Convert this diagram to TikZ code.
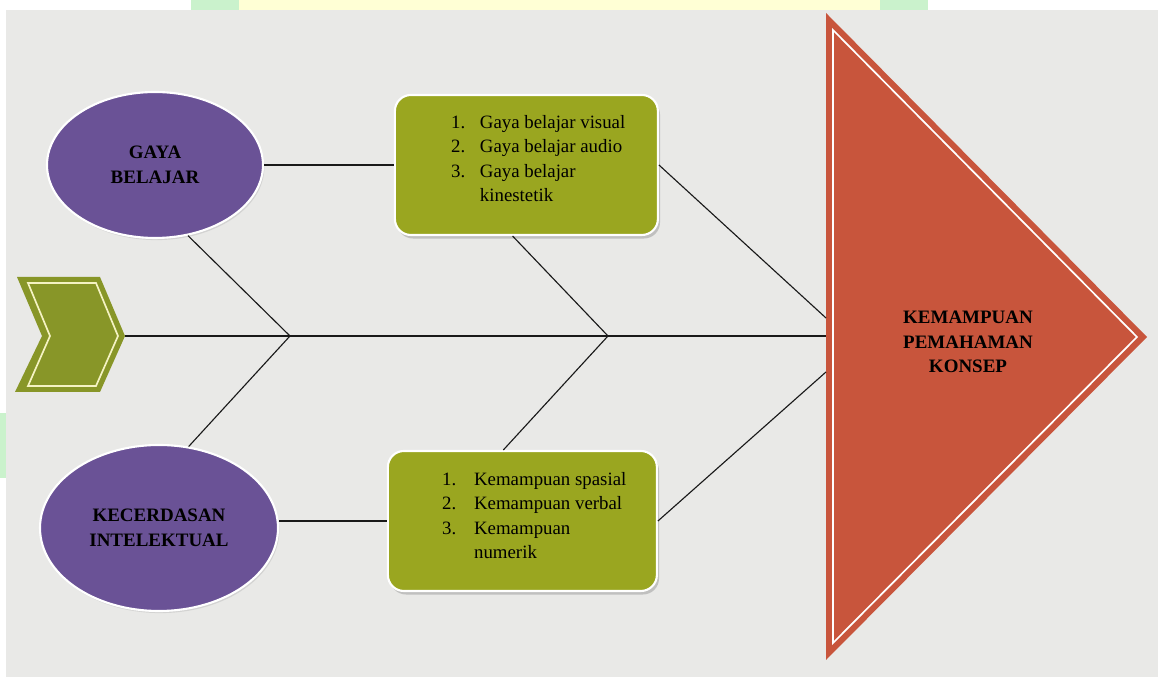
\documentclass[tikz,border=0pt]{standalone}
\usepackage{fontspec}
\setmainfont{Liberation Serif}
\usetikzlibrary{calc,shapes.geometric,shadows}
\definecolor{kertas}{RGB}{233,233,231}
\definecolor{ungu}{RGB}{106,82,150}
\definecolor{hijau}{RGB}{154,166,32}
\definecolor{hijautua}{RGB}{136,150,40}
\definecolor{merah}{RGB}{200,85,60}
\definecolor{pucat}{RGB}{245,243,195}
\definecolor{tandahijau}{RGB}{202,242,204}
\definecolor{tandakuning}{RGB}{255,255,213}
\def\judul{\fontsize{13.5}{17.5}\selectfont\bfseries}
\def\isi{\fontsize{13.4}{17.5}\selectfont}
\tikzset{
	oval/.style={ellipse, fill=ungu, draw=white, line width=1.5pt, align=center, font=\judul,
		drop shadow={shadow xshift=1pt, shadow yshift=-1.5pt, fill=black!25}},
	kotak/.style={rectangle, rounded corners=0.4cm, fill=hijau, draw=white, line width=1.5pt,
		drop shadow={shadow xshift=1.5pt, shadow yshift=-2.5pt, fill=black!40}},
	daftar/.style={anchor=west, inner sep=0pt, font=\isi, align=left},
	tulang/.style={line width=0.8pt, color=black!90}
}

\begin{document}
\begin{tikzpicture}
			%%%%% START %%%%%
			
			\useasboundingbox (0, 0) rectangle (28.95, 16.925);
			\fill[white] (-0.1, -0.1) rectangle (29.05, 17.0);
			\fill[kertas] (0.15, -0.1) rectangle (29.05, 16.675);
			\fill[tandahijau] (4.775, 16.675) rectangle (5.975, 17.0);
			\fill[tandakuning] (5.975, 16.675) rectangle (22.0, 17.0);
			\fill[tandahijau] (22.0, 16.675) rectangle (23.2, 17.0);
			\fill[tandahijau] (-0.1, 4.975) rectangle (0.15, 6.6);
			
			\node[oval, minimum width=5.4cm, minimum height=3.65cm] (gaya) at (3.875, 12.8) {GAYA\\BELAJAR};
			\node[oval, minimum width=5.95cm, minimum height=4.15cm] (kecer) at (3.975, 3.725) {KECERDASAN\\INTELEKTUAL};
			
			\node[kotak, minimum width=6.575cm, minimum height=3.5cm] (gayabox) at (13.16, 12.8) {};
			\node[daftar] (gayalist) at ($(gayabox.west)+(1.425, 0.125)$) {\begin{tabular}{@{}p{0.72cm}@{}l@{}}
					1. & Gaya belajar visual\\
					2. & Gaya belajar audio\\
					3. & Gaya belajar\\
					& kinestetik
				\end{tabular}};
			\node[kotak, minimum width=6.725cm, minimum height=3.5cm] (kembox) at (13.06, 3.9) {};
			\node[daftar] (kemlist) at ($(kembox.west)+(1.375, 0.1)$) {\begin{tabular}{@{}p{0.8cm}@{}l@{}}
					1. & Kemampuan spasial\\
					2. & Kemampuan verbal\\
					3. & Kemampuan\\
					& numerik
				\end{tabular}};
			
			% kepala panah di kiri
			\fill[hijautua] (0.425, 10.0) -- (2.5, 10.0) -- (3.125, 8.525) -- (2.5, 7.125) -- (0.375, 7.125) -- (1.05, 8.525) -- cycle;
			\draw[pucat, line width=1.2pt] (0.7, 9.85) -- (2.4, 9.85) -- (2.95, 8.525) -- (2.4, 7.275) -- (0.7, 7.275) -- (1.25, 8.525) -- cycle;
			\coordinate (ekor) at (3.125, 8.525);
			
			% segitiga akibat
			\fill[merah] (20.65, 16.6) -- (28.675, 8.5) -- (20.65, 0.425) -- cycle;
			\draw[white, line width=1.2pt] (20.825, 16.175) -- (28.425, 8.5) -- (20.825, 0.85) -- cycle;
			\node[align=center, font=\judul] (konsep) at (24.2, 8.375) {KEMAMPUAN\\PEMAHAMAN\\KONSEP};
			\coordinate (kepala) at (20.65, 8.525);
			\coordinate (atas) at (20.65, 8.975);
			\coordinate (bawah) at (20.65, 7.625);
			
			\coordinate (j1) at (7.25, 8.525);
			\coordinate (j2) at (15.2, 8.525);
			
			\draw[tulang] (ekor) -- (j1) -- (j2) -- (kepala);
			\draw[tulang] (gaya.-65) -- (j1) -- (kecer.70);
			\draw[tulang] (gayabox.-101) -- (j2) -- (kembox.105);
			\draw[tulang] (gaya.east) -- (gayabox.west);
			\draw[tulang] (kecer.east |- kembox.west) -- (kembox.west);
			\draw[tulang] (gayabox.east) -- (atas);
			\draw[tulang] (kembox.east) -- (bawah);
			
			%%%%% END %%%%%
\end{tikzpicture}
\end{document}
